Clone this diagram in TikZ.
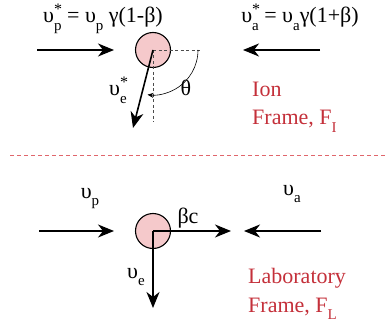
\documentclass[tikz,border=0pt]{standalone}
\usepackage{amsmath}
\usepackage{fontspec}
\setmainfont{Liberation Serif}
\usepackage{xcolor}
\usetikzlibrary{arrows.meta,calc}
\definecolor{framered}{HTML}{C4303A}
\definecolor{ionpink}{HTML}{F5C9CB}
\definecolor{splitred}{HTML}{E0666C}
\newcommand{\supsub}[2]{\rlap{\raisebox{0.40em}{\fontsize{16}{16}\selectfont #1}}\raisebox{-0.32em}{\fontsize{15}{15}\selectfont #2}}
\newcommand{\subonly}[1]{\raisebox{-0.32em}{\fontsize{15}{15}\selectfont #1}}
\tikzset{
  ionball/.style={circle,draw=black,line width=1.1pt,fill=ionpink,minimum size=35pt,inner sep=0pt},
  beamarrow/.style={-{Stealth[length=16pt,width=13pt,inset=5pt]},line width=1.6pt},
  guide/.style={draw=black!70,dashed,line width=0.6pt,dash pattern=on 3pt off 2.5pt},
  anglearc/.style={-{Stealth[length=6pt,width=5pt]},line width=0.6pt},
  lbl/.style={font=\fontsize{22}{26}\selectfont,inner sep=0pt},
  framelbl/.style={lbl,text=framered,anchor=base west},
  splitline/.style={draw=splitred,dashed,line width=0.8pt,dash pattern=on 4pt off 3pt}
}

\begin{document}
\begin{tikzpicture}[x=1pt,y=-1pt]
\useasboundingbox (0,0) rectangle (385,323);
% ion frame
\node[ionball] (ion) at (153,50) {};
\coordinate (pstart) at (37,50);
\coordinate (pend) at (114,50);
\coordinate (astart) at (320,50);
\coordinate (aend) at (243,50);
\coordinate (hguide) at (200,50);
\coordinate (vguide) at (153,122);
\coordinate (etip) at (133,128);
\draw[guide] (ion.center) -- (hguide);
\draw[guide] (ion.center) -- (vguide);
\draw[beamarrow] (pstart) -- (pend);
\draw[beamarrow] (astart) -- (aend);
\draw[beamarrow] (ion.center) -- (etip);
\draw[anglearc] ($(ion.center)+(45,0)$) arc[start angle=0,end angle=97,radius=45];
\node[lbl,anchor=base] (vpstar) at (103,23) {υ\supsub{*}{p} = υ\subonly{p} γ(1-β)};
\node[lbl,anchor=base] (vastar) at (300,23) {υ\supsub{*}{a} = υ\subonly{a}γ(1+β)};
\node[lbl,anchor=base] (vestar) at (118,96) {υ\supsub{*}{e}};
\node[lbl,anchor=base] (theta) at (186,96) {θ};
\node[framelbl] (ionlbl) at (252,97) {Ion};
\node[framelbl] (ionframe) at (252,125) {Frame, F\subonly{I}};
% divider
\coordinate (splitl) at (10,155);
\coordinate (splitr) at (385,155);
\draw[splitline] (splitl) -- (splitr);
% laboratory frame
\node[ionball] (lab) at (153,231) {};
\coordinate (lpstart) at (39,231);
\coordinate (lpend) at (114,231);
\coordinate (lastart) at (321,231);
\coordinate (laend) at (244,231);
\coordinate (bctip) at (231,231);
\coordinate (vetip) at (153,308);
\draw[beamarrow] (lpstart) -- (lpend);
\draw[beamarrow] (lastart) -- (laend);
\draw[beamarrow] (lab.center) -- (bctip);
\draw[beamarrow] (lab.center) -- (vetip);
\node[lbl,anchor=base] (vplbl) at (90,198) {υ\subonly{p}};
\node[lbl,anchor=base] (valbl) at (292,195) {υ\subonly{a}};
\node[lbl,anchor=base] (bclbl) at (188,223) {βc};
\node[lbl,anchor=base] (velbl) at (136,278) {υ\subonly{e}};
\node[framelbl] (lablbl) at (248,283) {Laboratory};
\node[framelbl] (labframe) at (248,312) {Frame, F\subonly{L}};
\end{tikzpicture}
\end{document}
